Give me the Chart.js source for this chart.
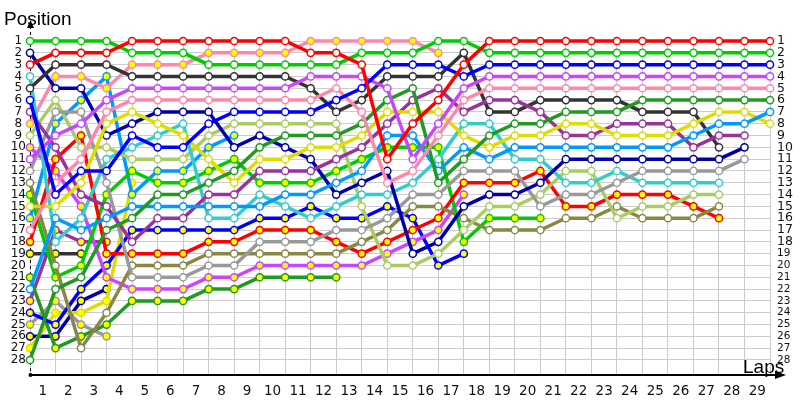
<!DOCTYPE html>
<html>
<head>
<meta charset="utf-8">
<script src="https://cdn.jsdelivr.net/npm/chart.js@4.4.1/dist/chart.umd.min.js"></script>
<style>
  html, body { margin: 0; padding: 0; background: #fff; }
  #wrap { width: 800px; height: 400px; }
</style>
</head>
<body>
<div id="wrap"><canvas id="lapChart" width="800" height="400"></canvas></div>
<script>
/* laps (x) and positions (y) */
const laps = [0, 1, 2, 3, 4, 5, 6, 7, 8, 9, 10, 11, 12, 13, 14, 15, 16, 17, 18, 19, 20, 21, 22, 23, 24, 25, 26, 27, 28, 29];
const rows = [1, 2, 3, 4, 5, 6, 7, 8, 9, 10, 11, 12, 13, 14, 15, 16, 17, 18, 19, 20, 21, 22, 23, 24, 25, 26, 27, 28];

/* position of each car per lap, lap 0 = grid */
const redA    = [3, 2, 2, 2, 1, 1, 1, 1, 1, 1, 1, 2, 2, 3, 11, 8, 6, 3, 1, 1, 1, 1, 1, 1, 1, 1, 1, 1, 1, 1];
const greenA  = [1, 1, 1, 1, 2, 2, 2, 3, 3, 3, 3, 3, 3, 2, 2, 2, 1, 1, 2, 2, 2, 2, 2, 2, 2, 2, 2, 2, 2, 2];
const blueA   = [6, 14, 12, 12, 9, 10, 10, 8, 7, 7, 7, 7, 6, 5, 3, 3, 3, 4, 3, 3, 3, 3, 3, 3, 3, 3, 3, 3, 3, 3];
const violetA = [11, 9, 8, 6, 5, 5, 5, 5, 5, 5, 5, 4, 4, 4, 5, 11, 8, 5, 4, 4, 4, 4, 4, 4, 4, 4, 4, 4, 4, 4];
const pinkA   = [17, 13, 11, 7, 6, 6, 6, 6, 6, 6, 6, 6, 5, 7, 13, 12, 9, 6, 5, 5, 5, 5, 5, 5, 5, 5, 5, 5, 5, 5];
const dgreenA = [28, 22, 21, 17, 16, 14, 14, 13, 12, 10, 9, 9, 9, 8, 6, 5, 13, 11, 9, 8, 8, 7, 7, 7, 6, 6, 6, 6, 6, 6];
const skyA    = [22, 16, 17, 16, 15, 15, 15, 15, 15, 15, 14, 14, 13, 12, 9, 9, 12, 10, 11, 10, 10, 10, 10, 10, 10, 10, 9, 8, 8, 7];
const yellowA = [15, 15, 13, 8, 7, 8, 9, 11, 13, 11, 11, 10, 10, 9, 7, 7, 7, 9, 10, 9, 9, 8, 8, 9, 9, 9, 8, 7, 7, 8];
const purpleA = [7, 10, 14, 15, 18, 16, 16, 14, 14, 12, 12, 12, 11, 10, 8, 6, 5, 7, 6, 6, 7, 9, 9, 8, 8, 8, 10, 9, 9, null];
const dgrayA  = [5, 3, 3, 3, 4, 4, 4, 4, 4, 4, 4, 5, 7, 6, 4, 4, 4, 2, 7, 7, 6, 6, 6, 6, 7, 7, 7, 10, null, null];
const navyA   = [2, 5, 5, 9, 8, 7, 7, 7, 10, 9, 10, 11, 14, 13, 12, 19, 18, 15, 14, 14, 13, 11, 11, 11, 11, 11, 11, 11, 10, null];
const grayA   = [12, 7, 7, 13, 21, 21, 21, 20, 20, 18, 18, 18, 17, 17, 16, 14, 14, 12, 12, 12, 15, 14, 14, 13, 12, 12, 12, 12, 11, null];
const cyanA   = [4, 18, 16, 11, 10, 9, 8, 16, 16, 14, 15, 16, 15, 14, 14, 13, 11, 8, 8, 11, 11, 13, 13, 12, 13, 13, 13, 13, null, null];
const lgreenA = [9, 6, 10, 10, 11, 11, 11, 9, 8, 8, 8, 8, 8, 15, 20, 20, 19, 17, 15, 15, 14, 12, 12, 16, 15, 15, 14, 14, null, null];
const oliveA  = [13, 20, 27, 24, 20, 20, 20, 19, 19, 19, 19, 19, 19, 18, 17, 15, 15, 16, 17, 17, 17, 16, 16, 15, 16, 16, 16, 15, null, null];
const redB    = [18, 11, 9, 19, 19, 19, 19, 18, 18, 17, 17, 17, 18, 19, 18, 17, 16, 13, 13, 13, 12, 15, 15, 14, 14, 14, 15, 16, null, null];
const pinkB   = [8, 4, 4, 5, 3, 3, 3, 2, 2, 2, 2, 1, 1, 1, 1, 1, 2];
const greenB  = [14, 21, 20, 14, 12, 13, 13, 12, 11, 13, 13, 13, 12, 11, 10, 10, 10, 18, 16, 16, 16];
const violetB = [10, 12, 15, 21, 22, 22, 22, 21, 21, 20, 20, 20, 20, 20, 19, 18, 17, 14];
const blueB   = [24, 25, 22, 20, 17, 17, 17, 17, 17, 16, 16, 15, 16, 16, 15, 16, 20, 19];
const dgreenB = [21, 27, 26, 25, 23, 23, 23, 22, 22, 21, 21, 21, 21];
const skyB    = [16, 8, 6, 4, 14, 12, 12, 10, 9];
const yellowB = [27, 24, 24, 23, 13];
const purpleB = [23, 17, 18, 18];
const navyB   = [26, 26, 23, 22];
const grayB   = [25, 23, 25, 26];
const dgrayB  = [19, 19, 19];

const WHITE = "#ffffff";
const YEL = "#ffff00";

function car(data, color, fill) {
  return {
    data: data,
    borderColor: color,
    backgroundColor: fill,
    pointBorderColor: color,
    pointBackgroundColor: fill,
    borderWidth: 3.5,
    pointRadius: 3.6,
    pointBorderWidth: 1.5,
    tension: 0,
    spanGaps: false,
    clip: false,
  };
}

/* first dataset is drawn on top */
const datasets = [
  car(redA, "#ff0000", WHITE),
  car(greenA, "#00cc00", WHITE),
  car(blueA, "#0000ff", WHITE),
  car(violetA, "#cc44ff", WHITE),
  car(pinkA, "#ff88aa", WHITE),
  car(dgreenA, "#229922", WHITE),
  car(skyA, "#0099ff", WHITE),
  car(yellowA, "#dddd00", WHITE),
  car(purpleA, "#993399", WHITE),
  car(dgrayA, "#333333", WHITE),
  car(navyA, "#0000aa", WHITE),
  car(grayA, "#999999", WHITE),
  car(cyanA, "#33cccc", WHITE),
  car(lgreenA, "#aacc66", WHITE),
  car(oliveA, "#888844", WHITE),
  car(redB, "#ff0000", YEL),
  car(pinkB, "#ff88aa", YEL),
  car(greenB, "#00cc00", YEL),
  car(violetB, "#cc44ff", YEL),
  car(blueB, "#0000ff", YEL),
  car(dgreenB, "#229922", YEL),
  car(skyB, "#0099ff", YEL),
  car(yellowB, "#dddd00", YEL),
  car(purpleB, "#993399", YEL),
  car(navyB, "#0000aa", YEL),
  car(grayB, "#999999", YEL),
  car(dgrayB, "#333333", YEL),
];

/* axes arrows, dashed y axis line and axis titles */
const axisDeco = {
  id: "axisDeco",
  beforeDatasetsDraw(chart) {
    const { ctx, chartArea: a } = chart;
    ctx.save();
    ctx.strokeStyle = "#000";
    ctx.lineWidth = 1;
    ctx.setLineDash([3, 3]);
    ctx.beginPath();
    ctx.moveTo(a.left + 0.5, 26);
    ctx.lineTo(a.left + 0.5, a.bottom);
    ctx.stroke();
    ctx.setLineDash([]);
    ctx.lineWidth = 2;
    ctx.beginPath();
    ctx.moveTo(a.left, a.bottom);
    ctx.lineTo(a.right + 8, a.bottom);
    ctx.stroke();
    ctx.restore();
  },
  afterDraw(chart) {
    const { ctx, chartArea: a } = chart;
    ctx.save();
    ctx.fillStyle = "#000";
    ctx.beginPath();
    ctx.moveTo(a.left + 0.5, 20);
    ctx.lineTo(a.left - 3, 28);
    ctx.lineTo(a.left + 4, 28);
    ctx.closePath();
    ctx.fill();
    ctx.beginPath();
    ctx.moveTo(a.right + 16, a.bottom);
    ctx.lineTo(a.right + 5, a.bottom - 4);
    ctx.lineTo(a.right + 5, a.bottom + 4);
    ctx.closePath();
    ctx.fill();
    ctx.beginPath();
    ctx.arc(a.left + 0.5, a.bottom, 2, 0, Math.PI * 2);
    ctx.fill();
    ctx.font = "19px 'Liberation Sans', Arial, sans-serif";
    ctx.textBaseline = "alphabetic";
    ctx.textAlign = "left";
    ctx.fillText("Position", 4, 25);
    ctx.fillText("Laps", 743, 373);
    ctx.restore();
  },
};

const FAMILY = "'DejaVu Sans', Verdana, sans-serif";

new Chart(document.getElementById("lapChart"), {
  type: "line",
  data: { labels: laps, datasets: datasets },
  options: {
    responsive: false,
    animation: false,
    layout: { padding: { top: 41, left: 0, right: 0, bottom: 0 } },
    plugins: { legend: { display: false }, tooltip: { enabled: false } },
    scales: {
      x: {
        type: "linear",
        min: 0,
        max: 29,
        afterFit: (s) => { s.height = 25; },
        afterBuildTicks: (s) => { s.ticks = laps.map((v) => ({ value: v })); },
        grid: { color: "#cccccc", drawTicks: false },
        border: { display: false },
        ticks: {
          autoSkip: false,
          maxRotation: 0,
          padding: 8,
          labelOffset: -12.7,
          color: "#111",
          font: { family: FAMILY, size: 13.5 },
          callback: (v) => (v === 0 ? "" : v),
        },
      },
      y: {
        type: "linear",
        position: "left",
        reverse: true,
        min: 1,
        max: 29.27,
        afterFit: (s) => { s.width = 30; },
        afterBuildTicks: (s) => { s.ticks = rows.map((v) => ({ value: v })); },
        grid: { color: "#cccccc", drawTicks: false },
        border: { display: false },
        ticks: { autoSkip: false, padding: 4, crossAlign: "center", color: "#111", font: { family: FAMILY, size: 12 } },
      },
      y2: {
        type: "linear",
        position: "right",
        reverse: true,
        min: 1,
        max: 29.27,
        afterFit: (s) => { s.width = 30; },
        afterBuildTicks: (s) => { s.ticks = rows.map((v) => ({ value: v })); },
        grid: { display: false, drawTicks: false },
        border: { display: false },
        ticks: {
          autoSkip: false,
          padding: 7,
          color: "#111",
          font: (c) => ({ family: FAMILY, size: c.tick && c.tick.value > 18 ? 10.5 : 12.5 }),
        },
      },
    },
  },
  plugins: [axisDeco],
});
</script>
</body>
</html>
